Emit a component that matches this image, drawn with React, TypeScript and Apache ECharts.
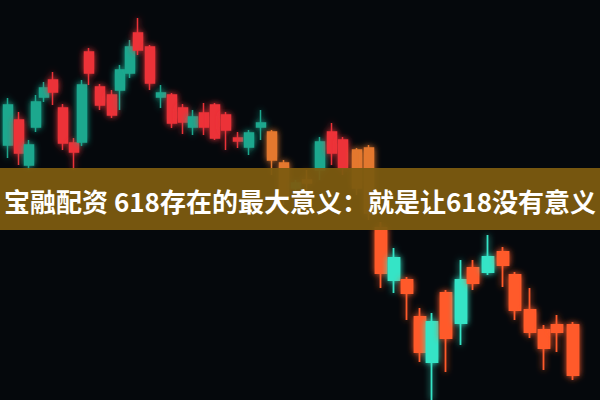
import React, { useEffect, useRef } from "react";
import * as echarts from "echarts";

// candle centre positions (x), and price values read as (400 - pixel y)
const xs = [8, 19, 29, 36, 44, 53, 63, 74, 82, 89, 100, 112, 120, 130, 138, 150, 161, 172, 183, 193, 204, 215, 226, 238, 249, 261, 272, 284, 296, 307, 320, 332, 343, 357, 369, 381, 394, 407, 420, 432, 446, 461, 473, 488, 503, 515, 530, 544, 557, 573];
const bodyTop = [105, 120, 145, 102, 88, 80, 108, 143, 85, 52, 87, 95, 70, 47, 33, 47, 93, 95, 108, 117, 113, 105, 115, 138, 133, 123, 132, 163, 183, 180, 142, 132, 140, 150, 148, 228, 258, 280, 317, 322, 293, 280, 268, 257, 252, 275, 310, 330, 325, 325];
const bodyBottom = [145, 153, 165, 127, 97, 92, 143, 152, 142, 73, 105, 115, 90, 73, 50, 83, 97, 123, 122, 127, 127, 138, 130, 141, 147, 127, 160, 197, 188, 183, 170, 153, 168, 188, 213, 273, 280, 293, 352, 362, 338, 323, 283, 272, 265, 310, 332, 348, 332, 375];
const wickTop = [98, 112, 140, 95, 82, 72, 104, 138, 80, 48, 84, 90, 65, 40, 18, 45, 85, 93, 104, 110, 103, 103, 112, 132, 130, 110, 130, 160, 180, 170, 137, 123, 137, 148, 145, 222, 248, 277, 308, 313, 290, 260, 260, 235, 247, 272, 288, 325, 315, 322];
const wickBottom = [158, 165, 170, 132, 102, 105, 150, 170, 146, 85, 110, 118, 110, 78, 55, 90, 108, 128, 134, 135, 135, 140, 150, 148, 155, 140, 175, 205, 192, 195, 180, 165, 175, 195, 220, 288, 293, 320, 362, 400, 372, 345, 290, 275, 287, 320, 338, 370, 352, 380];
// t = muted teal, r = red, o = orange (striped), T = bright teal, R = orange-red
const kinds = ["t", "r", "t", "t", "t", "r", "r", "r", "t", "r", "r", "r", "t", "t", "r", "r", "t", "r", "r", "t", "r", "r", "r", "r", "t", "t", "o", "o", "t", "o", "t", "r", "r", "o", "o", "R", "T", "R", "R", "T", "R", "T", "R", "T", "R", "R", "R", "R", "R", "R"];

const TITLE = "宝融配资 618存在的最大意义：就是让618没有意义";

const palette: Record<string, string> = {
  t: "#1fa88e",
  r: "#ec3338",
  o: "#e4782e",
  T: "#34e4c6",
  R: "#ff5a2c",
};

export default function App() {
  const ref = useRef<HTMLDivElement>(null);
  useEffect(() => {
    if (!ref.current) return;
    const chart = echarts.init(ref.current, null, { renderer: "svg" });
    const H = 400;
    const makeData = (from: number, to: number) =>
      xs.slice(from, to).map((x, k) => {
        const i = from + k;
        const c = palette[kinds[i]];
        return {
          value: [x, H - bodyBottom[i], H - bodyTop[i], H - wickBottom[i], H - wickTop[i]],
          itemStyle: {
            color: c,
            color0: c,
            borderColor: c,
            borderColor0: c,
            shadowBlur: 6,
            shadowColor: c,
          },
        };
      });
    chart.setOption({
      animation: false,
      backgroundColor: "#05080c",
      grid: { left: 0, right: 0, top: 0, bottom: 0 },
      xAxis: { type: "value", min: 0, max: 600, show: false },
      yAxis: { type: "value", min: 0, max: 400, show: false },
      series: [
        {
          type: "candlestick",
          barWidth: 10,
          itemStyle: { borderWidth: 1.5 },
          data: makeData(0, 35),
        },
        {
          type: "candlestick",
          barWidth: 12,
          itemStyle: { borderWidth: 1.8 },
          data: makeData(35, xs.length),
        },
      ],
      graphic: [
        {
          type: "rect",
          z: 100,
          shape: { x: 0, y: 168, width: 600, height: 62 },
          style: { fill: "rgba(124,91,16,0.95)" },
        },
        {
          type: "text",
          z: 101,
          x: 300,
          y: 200,
          style: {
            text: TITLE,
            align: "center",
            verticalAlign: "middle",
            fill: "#ffffff",
            fontSize: 26,
            fontWeight: "bold",
            fontFamily: '"Noto Sans CJK SC", sans-serif',
          },
        },
      ],
    });
    return () => chart.dispose();
  }, []);
  return (
    <div
      ref={ref}
      style={{ position: "fixed", left: 0, top: 0, width: 600, height: 400 }}
    />
  );
}
